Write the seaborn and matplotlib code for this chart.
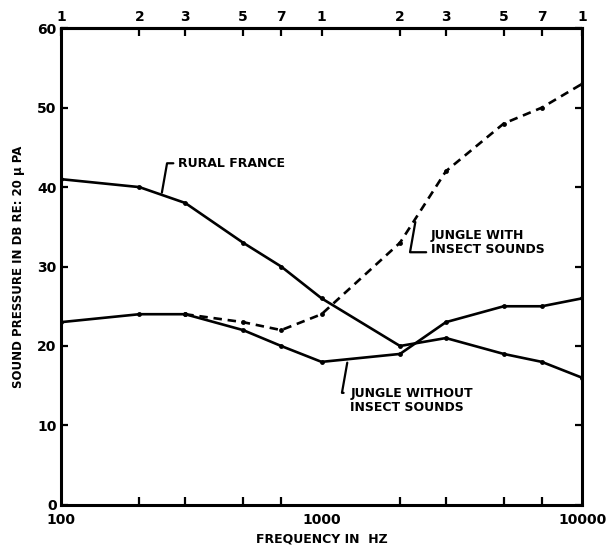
import matplotlib
matplotlib.use("Agg")
import matplotlib.pyplot as plt
import numpy as np
import pandas as pd
import seaborn as sns

# values
freqs = [100, 200, 300, 500, 700, 1000, 2000, 3000, 5000, 7000, 10000]
rural_france = [41, 40, 38, 33, 30, 26, 20, 21, 19, 18, 16]
jungle_without = [23, 24, 24, 22, 20, 18, 19, 23, 25, 25, 26]
insect_freqs = [300, 500, 700, 1000, 2000, 3000, 5000, 7000, 10000]
jungle_with = [24, 23, 22, 24, 33, 42, 48, 50, 53]

top_labels = ["1", "2", "3", "5", "7", "1", "2", "3", "5", "7", "1"]
y_ticks = [0, 10, 20, 30, 40, 50, 60]

sns.set_style("ticks")
plt.rcParams["font.family"] = ["DejaVu Sans"]
plt.rcParams["font.weight"] = "bold"
for key in ["text.color", "axes.labelcolor", "xtick.color", "ytick.color",
            "axes.edgecolor"]:
    plt.rcParams[key] = "black"

fig = plt.figure(figsize=(6.09, 5.53), dpi=100)
ax = fig.add_axes([0.100, 0.087, 0.856, 0.862])

ink = "black"
lw = 1.9

df_rf = pd.DataFrame({"f": freqs, "db": rural_france})
df_wo = pd.DataFrame({"f": freqs, "db": jungle_without})
df_wi = pd.DataFrame({"f": insect_freqs, "db": jungle_with})

sns.lineplot(data=df_rf, x="f", y="db", ax=ax, color=ink, lw=lw,
             marker="o", markersize=3.5, markeredgewidth=0)
sns.lineplot(data=df_wo, x="f", y="db", ax=ax, color=ink, lw=lw,
             marker="o", markersize=3.5, markeredgewidth=0)
sns.lineplot(data=df_wi, x="f", y="db", ax=ax, color=ink, lw=lw,
             marker="o", markersize=3.5, markeredgewidth=0,
             linestyle=(0, (3.2, 2.2)))

ax.set_xscale("log")
ax.set_xlim(100, 10000)
ax.set_ylim(0, 60)

# bottom axis: decade labels, inner minor ticks
ax.set_xticks([100, 1000, 10000])
ax.set_xticklabels(["100", "1000", "10000"])
ax.set_xticks([200, 300, 500, 700, 2000, 3000, 5000, 7000], minor=True)
ax.tick_params(axis="x", which="major", direction="in", length=0, pad=6,
               labelsize=10)
ax.tick_params(axis="x", which="minor", direction="in", length=6, width=1.6)
ax.set_yticks(y_ticks)
ax.tick_params(axis="y", direction="in", length=5, width=1.6, labelsize=10,
               right=True, pad=3)

top = ax.secondary_xaxis("top")
top.set_xticks(freqs)
top.set_xticklabels(top_labels)
top.xaxis.set_minor_locator(matplotlib.ticker.NullLocator())
top.tick_params(axis="x", which="major", direction="in", length=6, width=1.6,
                labelsize=10, pad=3)
top.spines["top"].set_linewidth(2.2)

for side in ["left", "right", "bottom", "top"]:
    ax.spines[side].set_linewidth(2.2)
    ax.spines[side].set_color(ink)

ax.set_xlabel("FREQUENCY IN  HZ", fontsize=9, fontweight="bold", labelpad=4)
ax.set_ylabel("SOUND PRESSURE IN DB RE: 20 μ PA", fontsize=8.5,
              fontweight="bold", labelpad=9)

# labels with leader lines
lead = dict(arrowstyle="-", color=ink, lw=1.6, shrinkA=0, shrinkB=0,
            connectionstyle="angle,angleA=0,angleB=80,rad=0")
ax.annotate("", xy=(244, 39.3), xytext=(270, 43), arrowprops=lead)
ax.text(282, 43, "RURAL FRANCE", fontsize=9, fontweight="bold",
        va="center", ha="left")

ax.annotate("", xy=(2290, 35.6), xytext=(2520, 31.8), arrowprops=lead)
ax.text(2620, 33, "JUNGLE WITH\nINSECT SOUNDS", fontsize=9,
        fontweight="bold", va="center", ha="left", linespacing=1.1)

ax.annotate("", xy=(1255, 17.9), xytext=(1215, 14.1), arrowprops=lead)
ax.text(1290, 13.2, "JUNGLE WITHOUT\nINSECT SOUNDS", fontsize=9,
        fontweight="bold", va="center", ha="left", linespacing=1.1)

fig.savefig("out.png", dpi=100)
